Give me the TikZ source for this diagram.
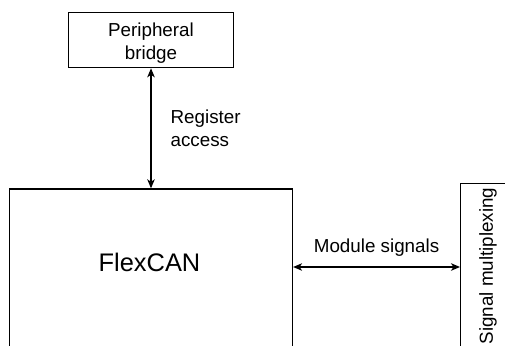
\documentclass[tikz,border=0pt]{standalone}
\usepackage{fontspec}
\setmainfont{Liberation Sans}
\usetikzlibrary{arrows.meta, positioning}

\begin{document}
\begin{tikzpicture}[x=1pt, y=-1pt,
    box/.style={rectangle, draw=black, line width=1.2pt, inner sep=0pt},
    lbl/.style={font=\fontsize{18.8}{23.4}\selectfont, inner sep=0pt, align=left},
    arrow/.style={{Stealth[length=9pt,width=7.5pt,inset=2.5pt]}-{Stealth[length=9pt,width=7.5pt,inset=2.5pt]},
                  line width=1.2pt}
  ]
    \clip (0,0) rectangle (505,345);
    \node[box, minimum width=165.6pt, minimum height=55pt] at (151,40.2) (bridge) {};
    \node[lbl, align=center] at (151,43) (bridgelbl) {Peripheral\\bridge};
    \node[box, anchor=north, minimum width=283pt, minimum height=200pt] at (151,188.3) (flexcan) {};
    \node[lbl, font=\fontsize{25.4}{30}\selectfont] at (149.5,262.5) (flexcanlbl) {FlexCAN};
    \node[box, anchor=north west, minimum width=80pt, minimum height=200pt] at (460,183) (mux) {};
    \node[lbl, rotate=90] at (488,266) (muxlbl) {Signal multiplexing};
    \coordinate (sig) at (0,267);
    \draw[arrow] (bridge.south) -- (flexcan.north)
      node[lbl, midway, right=19pt] {Register\\access};
    \draw[arrow] (sig -| flexcan.east) -- (sig -| mux.west)
      node[lbl, midway, above=10pt] {Module signals};
\end{tikzpicture}
\end{document}
